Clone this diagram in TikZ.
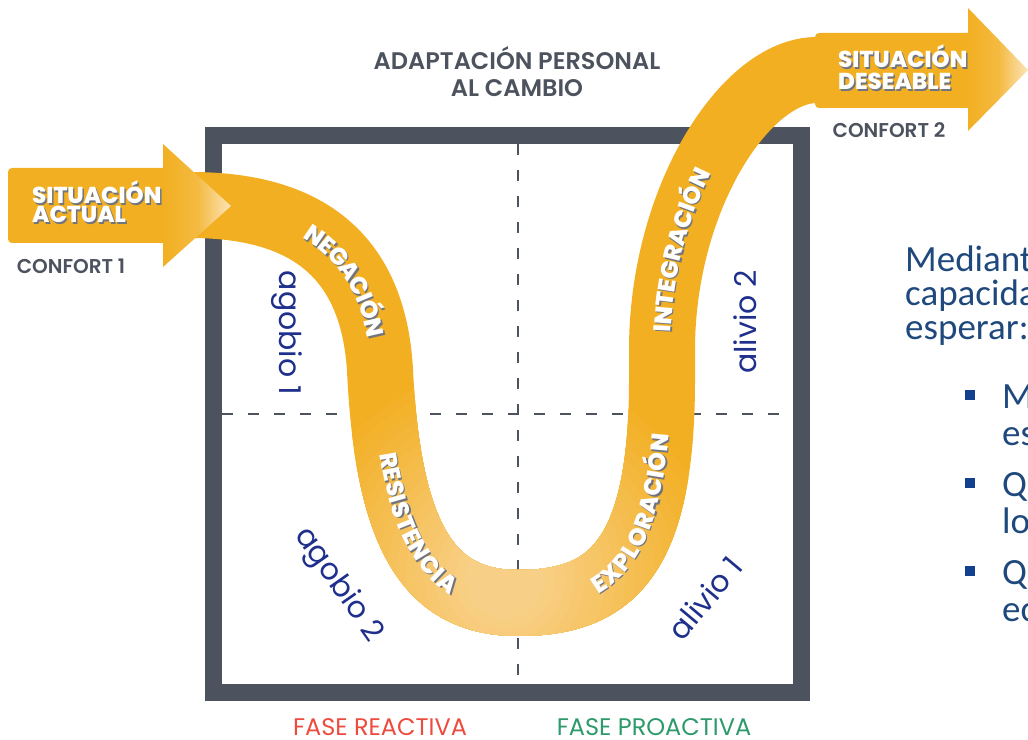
\documentclass[tikz,border=0pt]{standalone}
\usepackage{fontspec}
\usetikzlibrary{decorations.text}

\newfontfamily\gothic{Poppins}
\newfontfamily\gothicsemi{Poppins SemiBold}
\newfontfamily\gothicheavy{Poppins ExtraBold}
\newfontfamily\slidefont{Carlito}

\definecolor{bandorange}{HTML}{F2AF22}
\definecolor{bandlight}{HTML}{F9D392}
\definecolor{headlight}{HTML}{FCE4B8}
\definecolor{framegray}{HTML}{4D535E}
\definecolor{labelblue}{HTML}{1E2F8C}
\definecolor{reactred}{HTML}{EE4B3E}
\definecolor{proactgreen}{HTML}{2C9A6A}
\definecolor{textblue}{HTML}{1F497D}
\definecolor{bulletblue}{HTML}{14418F}

% centre line of the orange ribbon
\newcommand{\bandpath}{(190,534) .. controls (280,534) and (372,505) .. (380,369)
  .. controls (388,200) and (430,136) .. (518,136)
  .. controls (610,136) and (662,179) .. (662,359)
  -- (662,389) .. controls (662,540) and (745,669) .. (817,669) -- (830,669)}

% white label along the ribbon, with its shadow
\newcommand{\bandlabel}[3]{%
  \begin{scope}[shift={(1.5,-1.5)}]
    \path[decorate, decoration={text along path, raise=-8.5pt,
      text={|\gothicheavy\fontsize{24}{24}\selectfont\color{framegray!80}|#1},
      text align={center, #2}}] #3;
  \end{scope}
  \path[decorate, decoration={text along path, raise=-8.5pt,
    text={|\gothicheavy\fontsize{24}{24}\selectfont\color{white}|#1},
    text align={center, #2}}] #3;
}

\tikzset{
  frameline/.style={draw=framegray, line width=17pt},
  quarterline/.style={draw=framegray, line width=2.5pt, dash pattern=on 11pt off 15pt},
  band/.style={line width=66pt, draw=bandorange},
  arrowbody/.style={fill=bandorange, rounded corners=4pt},
  arrowhead/.style={left color=bandorange, right color=headlight, middle color=bandorange!80!headlight},
  heavytext/.style={font=\gothicheavy\fontsize{23}{23}\selectfont, text=white, inner sep=0pt, anchor=base west},
  heavyshadow/.style={heavytext, text=framegray!80},
  titletext/.style={font=\gothicsemi\fontsize{24}{24}\selectfont, text=framegray, inner sep=0pt, anchor=base},
  confort/.style={font=\gothicsemi\fontsize{20}{20}\selectfont, text=framegray, inner sep=0pt},
  quadrant/.style={font=\gothic\fontsize{30}{30}\selectfont, text=labelblue, inner sep=0pt},
  phase/.style={font=\gothic\fontsize{24}{24}\selectfont, inner sep=0pt, anchor=base},
  slidetext/.style={font=\slidefont\fontsize{37}{37}\selectfont, text=textblue, inner sep=0pt, anchor=base west},
  bulletsq/.style={fill=bulletblue, minimum size=10pt, inner sep=0pt},
}

\begin{document}
\begin{tikzpicture}[x=1pt, y=1pt]
  \useasboundingbox (0,0) rectangle (1028,739);

  % square and quarters
  \draw[quarterline] (518,595) -- (518,55);
  \draw[quarterline] (222,325) -- (793,325);
  \draw[frameline] (213.5,46.5) rectangle (801.5,603);

  % ribbon, lighter at the bottom
  \draw[band] \bandpath;
  \foreach \i [evaluate=\i as \pct using int(5*\i)] in {1,...,18}{
    \begin{scope}
      \clip (505,160) circle ({220-10*\i});
      \draw[band, draw=bandlight!\pct!bandorange] \bandpath;
    \end{scope}
  }

  % arrows
  \fill[arrowbody] (170,571) -- (8,571) -- (8,496) -- (170,496) -- cycle;
  \shade[arrowhead] (163,595) -- (231,533) -- (163,472) -- cycle;
  \fill[arrowbody] (975,706) -- (815,706) -- (815,631) -- (975,631) -- cycle;
  \shade[arrowhead] (968,731) -- (1028,669) -- (968,608) -- cycle;

  \node[heavyshadow] (actual1s) at (33.5,533.5) {SITUACIÓN};
  \node[heavyshadow] (actual2s) at (33.5,514.5) {ACTUAL};
  \node[heavytext] (actual1) at (32,535) {SITUACIÓN};
  \node[heavytext] (actual2) at (32,516) {ACTUAL};
  \node[heavyshadow] (deseable1s) at (839.5,669.5) {SITUACIÓN};
  \node[heavyshadow] (deseable2s) at (839.5,647.5) {DESEABLE};
  \node[heavytext] (deseable1) at (838,671) {SITUACIÓN};
  \node[heavytext] (deseable2) at (838,649) {DESEABLE};

  \node[confort] (confort1) at (71,473) {CONFORT 1};
  \node[confort] (confort2) at (889,609) {CONFORT 2};

  % ribbon labels
  \bandlabel{NEGACIÓN}{left indent=88pt}{(190,534) .. controls (280,534) and (372,505) .. (380,369)}
  \bandlabel{RESISTENCIA}{left indent=18pt}{(380,369) .. controls (388,200) and (430,136) .. (518,136)}
  \bandlabel{EXPLORACIÓN}{left indent=24pt}{(518,136) .. controls (610,136) and (662,179) .. (662,359)}
  \bandlabel{INTEGRACIÓN}{right indent=140pt}{(662,389) .. controls (662,540) and (745,669) .. (817,669)}

  \node[titletext] (title1) at (517,669) {ADAPTACIÓN PERSONAL};
  \node[titletext] (title2) at (517,642) {AL CAMBIO};

  \node[quadrant, rotate=-90] (agobio1) at (287,406) {agobio 1};
  \node[quadrant, rotate=-55] (agobio2) at (338,154) {agobio 2};
  \node[quadrant, rotate=90] (alivio2) at (745,417) {alivio 2};
  \node[quadrant, rotate=50] (alivio1) at (705,141) {alivio 1};

  \node[phase, text=reactred] (reactiva) at (380,4) {FASE REACTIVA};
  \node[phase, text=proactgreen] (proactiva) at (654,4) {FASE PROACTIVA};

  % slide text, cut by the right edge
  \node[slidetext] (mediante) at (905,467) {Mediante};
  \node[slidetext] (capacidad) at (905,433) {capacidad};
  \node[slidetext] (esperar) at (905,399) {esperar:};
  \node[bulletsq] (bullet1) at (970,344) {};
  \node[bulletsq] (bullet2) at (970,256) {};
  \node[bulletsq] (bullet3) at (970,168) {};
  \node[slidetext] (item1a) at (1002,330) {M};
  \node[slidetext] (item1b) at (1002,293) {es};
  \node[slidetext] (item2a) at (1002,242) {Qu};
  \node[slidetext] (item2b) at (1002,205) {lo};
  \node[slidetext] (item3a) at (1002,154) {Qu};
  \node[slidetext] (item3b) at (1002,117) {ec};
\end{tikzpicture}
\end{document}
